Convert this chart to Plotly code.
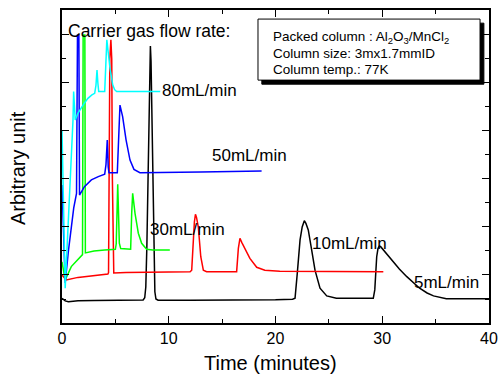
import plotly.graph_objects as go

# ---- data (time in minutes, arbitrary detector units) ----
t_5 = [0, 0.3, 0.6, 1.5, 3, 5, 7, 7.6, 7.75, 7.85, 7.95, 8.05, 8.15, 8.22, 8.28, 8.34, 8.42, 8.5, 8.6, 8.7,
       8.8, 9.0, 12, 16, 20, 21.6, 21.83, 22.04, 22.3, 22.5, 22.7, 22.85, 23.07, 23.39, 23.7, 24.17, 24.8,
       25.7, 28, 29.16, 29.3, 29.48, 29.6, 29.73, 29.85, 30.1, 30.5, 31.0, 31.6, 32.3, 33.0, 33.5, 34.2,
       34.8, 36.0, 38, 40]
v_5 = [1.03, 0.92, 0.89, 0.93, 0.94, 0.95, 0.96, 0.96, 1.05, 1.5, 3.2, 6.0, 9.3, 10.9, 11.54, 10.9, 8.6,
       5.8, 2.8, 1.3, 1.0, 0.95, 0.95, 0.95, 0.97, 0.99, 1.03, 2.07, 3.46, 4.0, 4.26, 4.15, 3.88, 3.04,
       2.2, 1.45, 1.13, 1.03, 1.02, 1.03, 1.38, 2.76, 3.1, 3.21, 3.18, 3.04, 2.82, 2.55, 2.25, 1.93, 1.66,
       1.45, 1.25, 1.13, 1.01, 1.0, 1.01]

t_10 = [0, 0.4, 1.5, 3.0, 4.3, 4.36, 4.42, 4.48, 4.58, 4.66, 4.72, 4.78, 4.85, 6, 9, 12.0, 12.15, 12.3,
        12.4, 12.5, 12.6, 12.77, 13.0, 13.24, 13.55, 15, 16.36, 16.52, 16.67, 16.85, 17.14, 17.6, 18.24,
        19.0, 20.4, 25, 30.1]
v_10 = [2.0, 1.79, 1.9, 1.98, 2.04, 2.1, 6.0, 11.0, 11.8, 11.0, 6.0, 2.2, 2.08, 2.1, 2.12, 2.13, 2.2,
        3.46, 4.2, 4.53, 4.4, 4.0, 2.76, 2.2, 2.14, 2.14, 2.14, 3.11, 3.53, 3.35, 3.11, 2.69, 2.32, 2.2,
        2.16, 2.14, 2.14]

t_30 = [0, 0.3, 0.87, 1.4, 1.8, 1.92, 1.98, 2.14, 2.19, 3.0, 4.0, 5.0, 5.08, 5.15, 5.22, 5.3, 5.37, 5.5,
        6.2, 6.43, 6.53, 6.62, 6.84, 7.15, 7.46, 7.93, 8.5, 10.1]
v_30 = [2.55, 1.79, 2.35, 2.62, 2.79, 2.85, 12.0, 12.0, 2.92, 3.0, 3.04, 3.07, 3.3, 5.0, 5.78, 4.5, 3.33,
        3.1, 3.08, 3.07, 4.58, 5.4, 4.57, 3.74, 3.32, 3.07, 3.04, 3.04]

t_50 = [0, 0.3, 0.6, 0.87, 1.1, 1.36, 1.45, 1.58, 1.64, 2.1, 2.75, 3.4, 4.0, 4.12, 4.24, 4.33, 4.4, 5.18,
        5.3, 5.43, 5.68, 6.0, 6.37, 6.74, 7.3, 9.2, 13, 18.7]
v_50 = [5.75, 1.67, 3.0, 4.0, 4.8, 5.4, 12.0, 12.0, 5.33, 5.68, 5.96, 6.1, 6.2, 6.6, 7.62, 6.5, 6.26,
        6.26, 8.04, 9.08, 8.6, 7.63, 6.79, 6.4, 6.26, 6.26, 6.29, 6.33]

t_80 = [0, 0.3, 1.03, 1.09, 1.24, 1.5, 2.0, 2.43, 2.8, 3.06, 3.18, 3.28, 3.36, 3.44, 4.0, 4.06, 4.12,
        4.2, 4.34, 4.5, 4.75, 4.93, 5.12, 6, 8, 9.2]
v_80 = [8.04, 1.45, 8.46, 9.64, 8.46, 8.74, 9.1, 9.36, 9.5, 9.57, 9.9, 10.54, 10.0, 9.64, 9.64, 10.2,
        10.96, 11.8, 11.24, 10.6, 9.92, 9.72, 9.64, 9.64, 9.64, 9.64]

series = [("5mL/min", t_5, v_5, "#000000"),
          ("10mL/min", t_10, v_10, "#ff0000"),
          ("30mL/min", t_30, v_30, "#00ff00"),
          ("50mL/min", t_50, v_50, "#0000ff"),
          ("80mL/min", t_80, v_80, "#00ffff")]

FONT = "Liberation Sans, Arial, sans-serif"

fig = go.Figure()
for name, t, v, c in series:
    fig.add_trace(go.Scatter(x=t, y=v, mode="lines", name=name,
                             line=dict(color=c, width=1.5), showlegend=False))

# curve labels
labels = [("80mL/min", 9.18, 9.67), ("50mL/min", 13.86, 6.98), ("30mL/min", 8.06, 3.9),
          ("10mL/min", 23.23, 3.33), ("5mL/min", 32.79, 1.67)]
ann = []
for txt, x, y in labels:
    ann.append(dict(text=txt, x=x, y=y, xref="x", yref="y", xanchor="left", yanchor="middle",
                    showarrow=False, font=dict(size=17, color="black", family=FONT)))
ann.append(dict(text="Carrier gas flow rate:", x=0.4, y=12.17, xref="x", yref="y", xanchor="left",
                yanchor="middle", showarrow=False, font=dict(size=17.5, color="black", family=FONT)))

box_lines = ["Packed column : Al<sub>2</sub>O<sub>3</sub>/MnCl<sub>2</sub>",
             "Column size: 3mx1.7mmID",
             "Column temp.: 77K"]
for txt, yy in zip(box_lines, [0.913, 0.862, 0.811]):
    ann.append(dict(text=txt, x=0.49, y=yy, xref="paper", yref="paper", xanchor="left",
                    yanchor="middle", showarrow=False, font=dict(size=13.5, color="black", family=FONT)))

ann.append(dict(text="Arbitrary unit", x=-0.103, y=0.495, xref="paper", yref="paper", textangle=-90,
                xanchor="center", yanchor="middle", showarrow=False,
                font=dict(size=20, color="black", family=FONT)))
ann.append(dict(text="Time (minutes)", x=0.489, y=-0.128, xref="paper", yref="paper",
                xanchor="center", yanchor="middle", showarrow=False,
                font=dict(size=20, color="black", family=FONT)))

shapes = [
    dict(type="rect", xref="paper", yref="paper", x0=0.468, x1=0.988, y0=0.763, y1=0.958,
         fillcolor="black", line=dict(color="black", width=1)),
    dict(type="rect", xref="paper", yref="paper", x0=0.459, x1=0.979, y0=0.776, y1=0.971,
         fillcolor="white", line=dict(color="black", width=1)),
]

axis_common = dict(showline=True, linecolor="black", linewidth=1.5, mirror="allticks", ticks="inside",
                   ticklen=7, tickwidth=1.2, tickcolor="black", showgrid=False, zeroline=False,
                   automargin=False)

fig.update_layout(
    width=499, height=381,
    margin=dict(l=62, r=10, t=10, b=58),
    paper_bgcolor="white", plot_bgcolor="white",
    font=dict(family=FONT, color="black"),
    annotations=ann, shapes=shapes,
    xaxis=dict(range=[0, 40], tickvals=[0, 10, 20, 30, 40], tickfont=dict(size=16),
               minor=dict(dtick=5, ticks="inside", ticklen=4, tickcolor="black", tickwidth=1.2, showgrid=False),
               **axis_common),
    yaxis=dict(range=[0, 13.04], dtick=2, showticklabels=False,
               minor=dict(dtick=1, ticks="inside", ticklen=4, tickcolor="black", tickwidth=1.2, showgrid=False),
               **axis_common),
)

fig.write_html("out.html")
